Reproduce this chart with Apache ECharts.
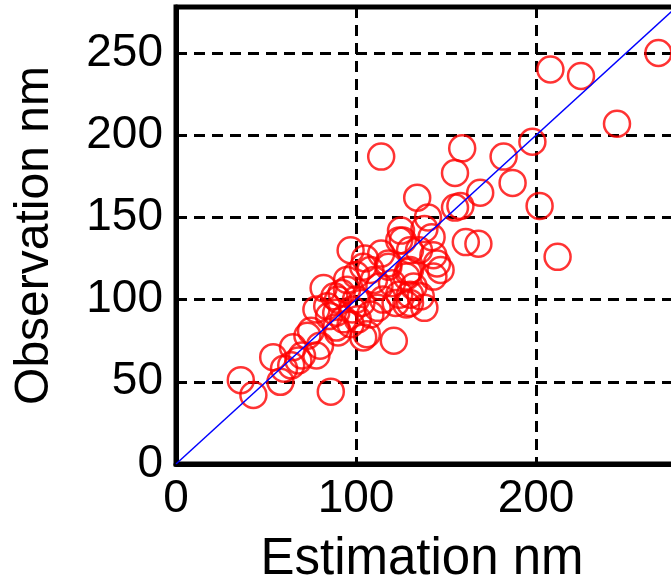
<!DOCTYPE html>
<html>
<head>
<meta charset="utf-8">
<script src="https://cdn.jsdelivr.net/npm/echarts@6/dist/echarts.min.js"></script>
<style>
  html, body { margin: 0; padding: 0; background: #fff; }
  #chart { width: 671px; height: 575px; }
</style>
</head>
<body>
<div id="chart"></div>
<script>
  const estX = [268, 208, 225, 245, 114, 159, 155, 182, 198, 187, 169, 158, 155, 202, 161, 168, 212,
    134, 140, 125, 142, 138, 130, 126,
    97, 114, 130, 143, 108, 129, 143, 145, 118, 104, 110, 120, 100, 105, 124, 135, 147, 130, 128,
    82, 95, 113, 124, 128, 136, 78, 89, 108, 75, 89, 104, 121, 98, 90, 100, 85, 93, 103, 115, 132, 138, 88, 122, 130, 97, 112,
    65, 54, 36, 43, 86, 58, 64, 78, 73, 90, 106, 70, 60, 80, 68, 84, 95, 101, 118, 92];
  const obsY = [250, 240, 236, 207, 187, 192, 177, 187, 196, 171, 165, 157, 156, 157, 135, 134, 126,
    162, 150, 142, 138, 143, 118, 136,
    130, 128, 130, 127, 118, 117, 114, 122, 122, 120, 112, 110, 115, 125, 136, 130, 118, 98, 114,
    107, 106, 108, 103, 97, 102, 94, 92, 91, 81, 83, 77, 75, 94, 100, 100, 90, 88, 98, 100, 108, 95, 102, 98, 103, 85, 95,
    71, 65, 51, 42, 44, 50, 60, 66, 78, 80, 79, 66, 58, 72, 63, 96, 112, 88, 120, 104];
  const lineX = [0, 280];
  const lineY = [0, 280];
  const xTicks = [0, 100, 200];
  const yTicks = [0, 50, 100, 150, 200, 250];

  const font = 'Liberation Sans, Arial, sans-serif';
  const points = estX.map((x, i) => [x, obsY[i]]);
  const diag = lineX.map((x, i) => [x, lineY[i]]);

  const chart = echarts.init(document.getElementById('chart'));
  chart.setOption({
    animation: false,
    backgroundColor: '#fff',
    grid: {
      left: 176, right: -9, top: 7, bottom: 111,
      outerBoundsMode: 'none',
      show: true, borderColor: '#000', borderWidth: 5
    },
    xAxis: {
      type: 'value', min: 0, max: 280, interval: 100,
      name: 'Estimation nm', nameLocation: 'middle', nameGap: 70,
      nameTextStyle: { fontSize: 51, color: '#000', fontFamily: font, padding: [0, 12, 0, 0] },
      axisLine: { lineStyle: { color: '#000', width: 5 } },
      axisTick: { inside: true, length: 7, lineStyle: { color: '#000', width: 3 } },
      axisLabel: {
        fontSize: 46, color: '#000', fontFamily: font, margin: 12, showMaxLabel: false,
        formatter: v => xTicks.includes(v) ? String(v) : ''
      },
      splitLine: { show: true, lineStyle: { color: '#000', width: 3, type: [11, 7] } }
    },
    yAxis: {
      type: 'value', min: 0, max: 278, interval: 50,
      name: 'Observation nm', nameLocation: 'middle', nameGap: 117,
      nameTextStyle: { fontSize: 48, color: '#000', fontFamily: font },
      axisLine: { lineStyle: { color: '#000', width: 5 } },
      axisTick: { inside: true, length: 7, lineStyle: { color: '#000', width: 3 } },
      axisLabel: {
        fontSize: 46, color: '#000', fontFamily: font, margin: 13, showMaxLabel: false,
        formatter: v => yTicks.includes(v) ? String(v) : ''
      },
      splitLine: { show: true, lineStyle: { color: '#000', width: 3, type: [11, 7] } }
    },
    series: [
      {
        type: 'scatter',
        data: points,
        symbol: 'circle',
        symbolSize: 26,
        itemStyle: { color: 'rgba(0,0,0,0)', borderColor: '#ff0000', borderWidth: 2.5 }
      },
      {
        type: 'line',
        data: diag,
        showSymbol: false,
        z: 5,
        lineStyle: { color: '#0000ff', width: 1.5 }
      }
    ]
  });
</script>
</body>
</html>
